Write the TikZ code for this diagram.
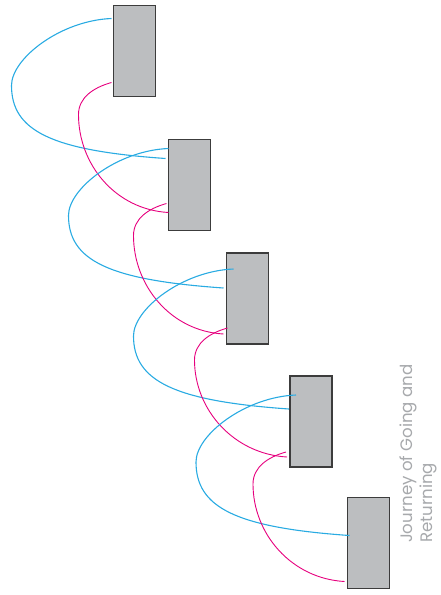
\documentclass[tikz,border=0pt]{standalone}
\usepackage{fontspec}
\newfontfamily\labelfont{Poppins}
\usetikzlibrary{calc}
\definecolor{boxfill}{HTML}{BCBEC0}
\definecolor{boxline}{HTML}{3C3C3C}
\definecolor{goblue}{HTML}{29ABE2}
\definecolor{retpink}{HTML}{E6007E}
\definecolor{labelgray}{HTML}{A7A9AC}
\begin{document}
\begin{tikzpicture}[x=1pt,y=-1pt,
  stage/.style={draw=boxline, fill=boxfill, line width=1.3pt, minimum width=42pt, minimum height=91pt, inner sep=0pt, outer sep=0pt},
  going/.style={draw=goblue, line width=1.1pt},
  returning/.style={draw=retpink, line width=0.9pt}]
\useasboundingbox (0,0) rectangle (440,595);
% boxes
\node[stage] (b1) at (134.5,51) {};
\node[stage] (b2) at (189.5,185) {};
\node[stage] (b3) at (247.5,298.5) {};
\node[stage] (b4) at (311,421.5) {};
\node[stage] (b5) at (368.5,543) {};
% blue (going) ends
\coordinate (g1s) at ([shift={(-2,13)}]b1.north west);
\coordinate (g1e) at ([shift={(-3,19)}]b2.north west);
\coordinate (g2s) at ([shift={(0,9)}]b2.north west);
\coordinate (g2e) at ([shift={(-3,35)}]b3.north west);
\coordinate (g3s) at ([shift={(7,16)}]b3.north west);
\coordinate (g3e) at ([shift={(-1,33)}]b4.north west);
\coordinate (g4s) at ([shift={(6,19)}]b4.north west);
\coordinate (g4e) at ([shift={(2,38)}]b5.north west);
% pink (returning) ends
\coordinate (r1s) at ([shift={(-2,-14)}]b1.south west);
\coordinate (r1e) at ([shift={(0,-18)}]b2.south west);
\coordinate (r2s) at ([shift={(-2,-27)}]b2.south west);
\coordinate (r2e) at ([shift={(-3,-10)}]b3.south west);
\coordinate (r3s) at ([shift={(1,-16)}]b3.south west);
\coordinate (r3e) at ([shift={(-3,-10)}]b4.south west);
\coordinate (r4s) at ([shift={(-4,-15)}]b4.south west);
\coordinate (r4e) at ([shift={(-3,-7)}]b5.south west);
% curves
\foreach \i in {1,2,3,4}{
  \draw[going] (g\i s) .. controls +(-51,2) and +(0,-27) .. ++(-100,67)
     .. controls +(0,45) and +(-115,-8) .. (g\i e);
  \draw[returning] (r\i s) .. controls +(-18,5) and +(0,-17) .. ++(-33,32)
     .. controls +(0,50) and +(-53,-3) .. (r\i e);
}
% label
\node[rotate=90, anchor=north west, inner sep=0pt, align=left, text=labelgray,
  font=\labelfont\fontsize{16.6}{19.5}\selectfont] (title) at (400,543)
  {Journey of Going and\\Returning};
\end{tikzpicture}
\end{document}
